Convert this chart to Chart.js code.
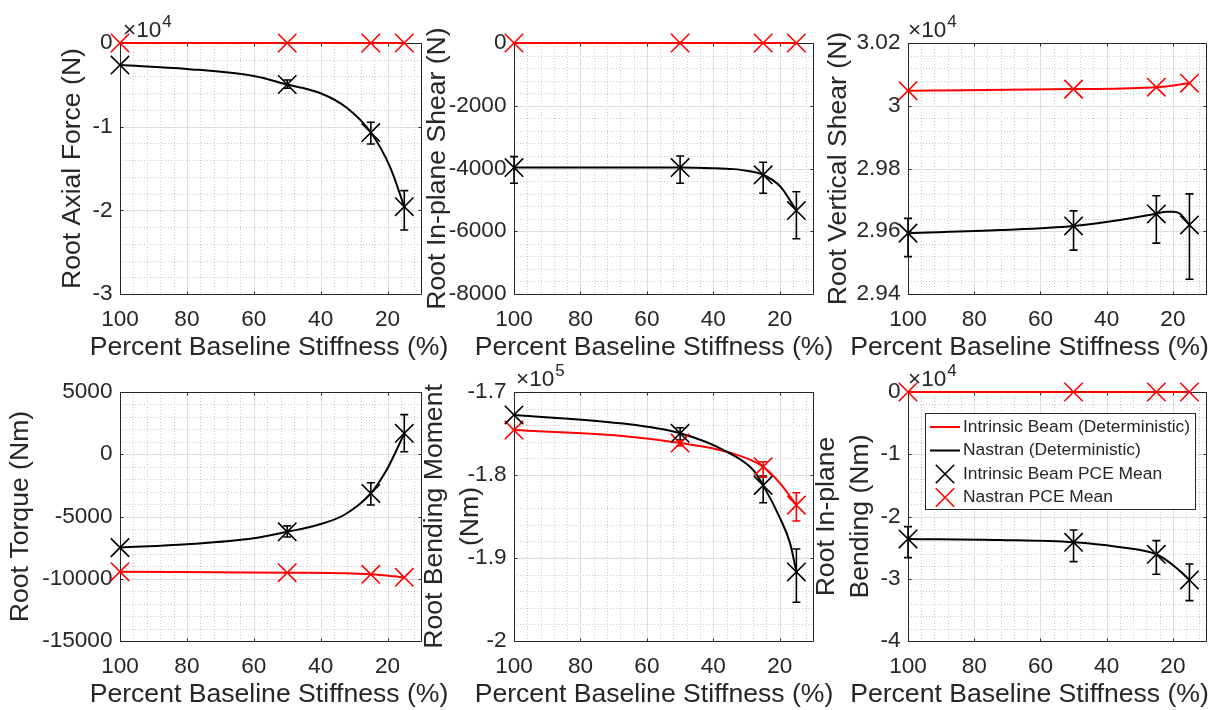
<!DOCTYPE html>
<html>
<head>
<meta charset="utf-8">
<script src="https://cdn.jsdelivr.net/npm/chart.js@4.4.0/dist/chart.umd.min.js"></script>
<style>
  html, body { margin: 0; padding: 0; background: #fff; }
  #wrap { position: relative; width: 1221px; height: 710px; overflow: hidden; }
  #wrap canvas { position: absolute; left: 0; top: 0; }
</style>
</head>
<body>
<div id="wrap">
  <canvas id="c1" width="1221" height="710"></canvas>
  <canvas id="c2" width="1221" height="710"></canvas>
  <canvas id="c3" width="1221" height="710"></canvas>
  <canvas id="c4" width="1221" height="710"></canvas>
  <canvas id="c5" width="1221" height="710"></canvas>
  <canvas id="c6" width="1221" height="710"></canvas>
</div>
<script>
// x positions of the PCE runs (percent baseline stiffness)
const stiffness = [100, 50, 25, 15];
const xTicks = [20, 40, 60, 80, 100];
const xTitle = 'Percent Baseline Stiffness (%)';
const legendLabels = ['Intrinsic Beam (Deterministic)', 'Nastran (Deterministic)', 'Intrinsic Beam PCE Mean', 'Nastran PCE Mean'];

// Root axial force (N)
const axialTicks = [-30000, -20000, -10000, 0];
const axialTickLabels = ['-3', '-2', '-1', '0'];
const axialRedX = [100, 50, 25, 15];
const axialRed = [0, 0, 0, 0];
const axialBlackX = [100, 80, 60, 50, 40, 32, 25, 19.3, 15];
const axialBlack = [-2630, -3100, -3950, -4960, -6010, -7800, -10700, -14780, -19560];
const axialBlackMean = [-2630, -4960, -10700, -19560];
const axialBlackLow = [null, -5410, -12070, -22350];
const axialBlackHigh = [null, -4420, -9480, -17650];
const axialRedMean = [0, 0, 0, 0];

// Root in-plane shear (N)
const shearTicks = [-8000, -6000, -4000, -2000, 0];
const shearTickLabels = ['-8000', '-6000', '-4000', '-2000', '0'];
const shearRedX = [100, 50, 25, 15];
const shearRed = [0, 0, 0, 0];
const shearBlackX = [100, 50, 40, 34, 30, 25, 19.8, 15];
const shearBlack = [-3970, -3970, -3990, -4020, -4070, -4200, -4580, -5340];
const shearBlackMean = [-3970, -3970, -4200, -5340];
const shearBlackLow = [-4470, -4470, -4790, -6240];
const shearBlackHigh = [-3620, -3600, -3800, -4740];
const shearRedMean = [0, 0, 0, 0];

// Root vertical shear (N)
const vertTicks = [29400, 29600, 29800, 30000, 30200];
const vertTickLabels = ['2.94', '2.96', '2.98', '3', '3.02'];
const vertRedX = [100, 50, 25, 15];
const vertRed = [30048, 30053, 30059, 30072];
const vertBlackX = [100, 72, 50, 36, 25, 22, 20, 18, 16.6, 15];
const vertBlack = [29594, 29604, 29617, 29636, 29656, 29662, 29662, 29657, 29641, 29620];
const vertBlackMean = [29594, 29617, 29655, 29620];
const vertBlackLow = [29519, 29540, 29562, 29447];
const vertBlackHigh = [29641, 29665, 29713, 29719];
const vertRedMean = [30048, 30053, 30059, 30072];

// Root torque (Nm)
const torqueTicks = [-15000, -10000, -5000, 0, 5000];
const torqueTickLabels = ['-15000', '-10000', '-5000', '0', '5000'];
const torqueRedX = [100, 50, 25, 15];
const torqueRed = [-9430, -9510, -9640, -9880];
const torqueBlackX = [100, 80, 60, 50, 41, 33, 25, 20.3, 17.3, 15];
const torqueBlack = [-7500, -7230, -6750, -6230, -5680, -4880, -3150, -1270, 340, 1680];
const torqueBlackMean = [-7500, -6230, -3150, 1680];
const torqueBlackLow = [null, -6650, -4080, 200];
const torqueBlackHigh = [null, -5750, -2290, 3180];
const torqueRedMean = [-9430, -9510, -9640, -9880];

// Root bending moment (Nm)
const bendTicks = [-200000, -190000, -180000, -170000];
const bendTickLabels = ['-2', '-1.9', '-1.8', '-1.7'];
const bendRedX = [100, 68, 50, 36, 25, 19.9, 15];
const bendRed = [-174580, -175270, -176150, -177190, -179000, -181000, -183630];
const bendBlackX = [100, 68, 50, 36, 28, 25, 19.9, 16.9, 15];
const bendBlack = [-172770, -173770, -174980, -177190, -179400, -181250, -185220, -188230, -191680];
const bendBlackMean = [-172770, -174980, -181250, -191680];
const bendBlackLow = [null, -175780, -183340, -195340];
const bendBlackHigh = [null, -174300, -180120, -188920];
const bendRedMean = [-174580, -176150, -179000, -183630];
const bendRedLow = [null, -176500, -180280, -185550];
const bendRedHigh = [null, -175850, -178400, -182130];

// Root in-plane bending (Nm)
const ipbTicks = [-40000, -30000, -20000, -10000, 0];
const ipbTickLabels = ['-4', '-3', '-2', '-1', '0'];
const ipbRedX = [100, 50, 25, 15];
const ipbRed = [0, 0, 0, 0];
const ipbBlackX = [100, 72, 50, 37, 25, 20, 15];
const ipbBlack = [-23610, -23780, -24140, -24850, -26070, -27790, -30190];
const ipbBlackMean = [-23610, -24140, -26070, -30190];
const ipbBlackLow = [-26610, -27250, -29280, -33520];
const ipbBlackHigh = [-21630, -22160, -23880, -27620];
const ipbRedMean = [0, 0, 0, 0];

const FONT = '"Liberation Sans", Arial, Helvetica, sans-serif';
const INK = '#262626';
const RED = '#ff0000';
const BLACK = '#000000';

const pts = (xs, ys) => xs.map((x, i) => ({x: x, y: ys[i]}));

// grid, box and inward tick marks, MATLAB style
const axesPlugin = {
  id: 'matlabAxes',
  beforeDatasetsDraw(chart, args, o) {
    const {ctx, chartArea: a} = chart;
    const xs = chart.scales.x, ys = chart.scales.y;
    const snap = p => Math.round(p) + 0.5;
    ctx.save();
    ctx.lineWidth = 1;
    ctx.strokeStyle = '#c9c9c9';
    ctx.setLineDash([1, 2]);
    ctx.beginPath();
    for (let k = 1; ; k++) {
      const v = xs.max - k * o.xMinor;
      if (v <= xs.min) break;
      if (k % 5 === 0) continue;
      const px = snap(xs.getPixelForValue(v));
      ctx.moveTo(px, a.top); ctx.lineTo(px, a.bottom);
    }
    for (let k = 1; ; k++) {
      const v = ys.min + k * o.yMinor;
      if (v >= ys.max - 1e-9) break;
      if (k % 5 === 0) continue;
      const py = snap(ys.getPixelForValue(v));
      ctx.moveTo(a.left, py); ctx.lineTo(a.right, py);
    }
    ctx.stroke();
    ctx.setLineDash([]);
    ctx.strokeStyle = '#dedede';
    ctx.beginPath();
    xs.ticks.forEach(t => {
      const px = snap(xs.getPixelForValue(t.value));
      ctx.moveTo(px, a.top); ctx.lineTo(px, a.bottom);
    });
    ys.ticks.forEach(t => {
      const py = snap(ys.getPixelForValue(t.value));
      ctx.moveTo(a.left, py); ctx.lineTo(a.right, py);
    });
    ctx.stroke();
    const L = snap(a.left), R = snap(a.right), T = snap(a.top), B = snap(a.bottom);
    ctx.strokeStyle = INK;
    ctx.beginPath();
    ctx.rect(L, T, R - L, B - T);
    xs.ticks.forEach(t => {
      const px = snap(xs.getPixelForValue(t.value));
      ctx.moveTo(px, B); ctx.lineTo(px, B - 3);
      ctx.moveTo(px, T); ctx.lineTo(px, T + 3);
    });
    ys.ticks.forEach(t => {
      const py = snap(ys.getPixelForValue(t.value));
      ctx.moveTo(L, py); ctx.lineTo(L + 3, py);
      ctx.moveTo(R, py); ctx.lineTo(R - 3, py);
    });
    ctx.stroke();
    ctx.restore();
  },
  afterDraw(chart, args, o) {
    const {ctx, chartArea: a} = chart;
    ctx.save();
    ctx.fillStyle = INK;
    ctx.font = '26.6px ' + FONT;
    ctx.textAlign = 'center';
    ctx.textBaseline = 'middle';
    ctx.fillText(xTitle, o.xTitleX, a.bottom + 54);
    ctx.save();
    ctx.translate(o.yTitleX, (a.top + a.bottom) / 2);
    ctx.rotate(-Math.PI / 2);
    o.yTitle.forEach((line, i) => ctx.fillText(line, 0, i * o.yTitleLH));
    ctx.restore();
    if (o.exp) {
      ctx.textAlign = 'left';
      ctx.textBaseline = 'alphabetic';
      ctx.font = '22.6px ' + FONT;
      const x0 = a.left + o.expDx;
      ctx.fillText('\u00d710', x0, a.top - 6);
      const w = ctx.measureText('\u00d710').width;
      ctx.font = '17px ' + FONT;
      ctx.fillText(o.exp, x0 + w + 1, a.top - 16);
    }
    ctx.restore();
  }
};

// vertical error bars with caps
const errorBarPlugin = {
  id: 'errorBars',
  afterDatasetsDraw(chart) {
    const {ctx} = chart;
    const ys = chart.scales.y;
    ctx.save();
    chart.data.datasets.forEach((d, di) => {
      if (!d.errLow) return;
      const meta = chart.getDatasetMeta(di);
      ctx.strokeStyle = d.pointBorderColor;
      ctx.lineWidth = 1.6;
      ctx.beginPath();
      meta.data.forEach((p, i) => {
        if (d.errLow[i] == null) return;
        const y1 = ys.getPixelForValue(d.errLow[i]);
        const y2 = ys.getPixelForValue(d.errHigh[i]);
        ctx.moveTo(p.x, y1); ctx.lineTo(p.x, y2);
        ctx.moveTo(p.x - 4, y1); ctx.lineTo(p.x + 4, y1);
        ctx.moveTo(p.x - 4, y2); ctx.lineTo(p.x + 4, y2);
      });
      ctx.stroke();
    });
    ctx.restore();
  }
};

// boxed legend inside the last panel
const boxLegend = {
  id: 'boxLegend',
  afterDraw(chart, args, o) {
    if (!o.show) return;
    const ctx = chart.ctx;
    ctx.save();
    ctx.fillStyle = '#fff';
    ctx.fillRect(o.left, o.top, o.width, o.height);
    ctx.strokeStyle = INK;
    ctx.lineWidth = 1;
    ctx.strokeRect(o.left + 0.5, o.top + 0.5, o.width, o.height);
    ctx.font = '17.4px ' + FONT;
    ctx.textBaseline = 'middle';
    ctx.textAlign = 'left';
    legendLabels.forEach((name, i) => {
      const d = chart.data.datasets.find(s => s.label === name);
      const cy = o.top + o.first + i * o.step;
      if (d.showLine === false) {
        const h = d.pointRadius * Math.SQRT1_2;
        const cx = o.left + 20;
        ctx.strokeStyle = d.pointBorderColor;
        ctx.lineWidth = d.pointBorderWidth;
        ctx.beginPath();
        ctx.moveTo(cx - h, cy - h); ctx.lineTo(cx + h, cy + h);
        ctx.moveTo(cx - h, cy + h); ctx.lineTo(cx + h, cy - h);
        ctx.stroke();
      } else {
        ctx.strokeStyle = d.borderColor;
        ctx.lineWidth = d.borderWidth;
        ctx.beginPath();
        ctx.moveTo(o.left + 5, cy); ctx.lineTo(o.left + 35, cy);
        ctx.stroke();
      }
      ctx.fillStyle = INK;
      ctx.fillText(name, o.left + 38, cy);
    });
    ctx.restore();
  }
};

function markers(label, color, ys, lo, hi) {
  return {
    label: label, data: pts(stiffness, ys), showLine: false, clip: false,
    pointStyle: 'crossRot', pointRadius: 13, pointHoverRadius: 13,
    pointBorderColor: color, pointBackgroundColor: 'rgba(0,0,0,0)', pointBorderWidth: 1.6,
    errLow: lo, errHigh: hi
  };
}

function curve(label, color, xs, ys) {
  return {
    label: label, data: pts(xs, ys), borderColor: color, borderWidth: 2,
    pointRadius: 0, cubicInterpolationMode: 'monotone', fill: false, clip: 2
  };
}

const Y_W = 100;   // room for y tick labels
const X_H = 50;    // room for x tick labels

function makePanel(id, col, row, s) {
  const tickFont = {family: FONT, size: 22.6};
  new Chart(document.getElementById(id), {
    type: 'line',
    data: {
      datasets: [
        markers(legendLabels[2], BLACK, s.blackMean, s.blackLow, s.blackHigh),
        markers(legendLabels[3], RED, s.redMean, s.redLow || null, s.redHigh || null),
        curve(legendLabels[1], BLACK, s.blackX, s.black),
        curve(legendLabels[0], RED, s.redX, s.red)
      ]
    },
    options: {
      responsive: false,
      animation: false,
      events: [],
      layout: {padding: {left: col.l - Y_W, top: row.t, right: 1221 - col.r, bottom: 710 - row.b - X_H}},
      scales: {
        x: {
          type: 'linear', min: 10, max: 100, reverse: true,
          afterFit: sc => { sc.height = X_H; },
          afterBuildTicks: sc => { sc.ticks = xTicks.map(v => ({value: v})); },
          grid: {display: false, drawTicks: false}, border: {display: false},
          ticks: {font: tickFont, color: INK, padding: 12, maxRotation: 0, minRotation: 0, autoSkip: false,
                  callback: v => String(v)}
        },
        y: {
          type: 'linear', min: s.ticks[0], max: s.ticks[s.ticks.length - 1],
          afterFit: sc => { sc.width = Y_W; },
          afterBuildTicks: sc => { sc.ticks = s.ticks.map(v => ({value: v})); },
          grid: {display: false, drawTicks: false}, border: {display: false},
          ticks: {font: tickFont, color: INK, padding: 7.5, autoSkip: false,
                  callback: v => s.tickLabels[s.ticks.indexOf(v)]}
        }
      },
      plugins: {
        legend: {display: false},
        tooltip: {enabled: false},
        matlabAxes: {xMinor: 4, yMinor: (s.ticks[1] - s.ticks[0]) / 5, yTitle: s.yTitle, xTitleX: col.tx,
                     yTitleX: s.yTitleX, yTitleLH: s.yTitleLH || 31, exp: s.exp, expDx: s.expDx || 0},
        boxLegend: s.legend || {show: false}
      }
    },
    plugins: [axesPlugin, errorBarPlugin, boxLegend]
  });
}

const cols = [{l: 120, r: 421, tx: 269}, {l: 514, r: 813, tx: 654}, {l: 908, r: 1206, tx: 1029.5}];
const rows = [{t: 43, b: 294}, {t: 392, b: 641}];

makePanel('c1', cols[0], rows[0], {
  ticks: axialTicks, tickLabels: axialTickLabels, yTitle: ['Root Axial Force (N)'], yTitleX: 73, exp: '4', expDx: 3,
  redX: axialRedX, red: axialRed, blackX: axialBlackX, black: axialBlack,
  blackMean: axialBlackMean, blackLow: axialBlackLow, blackHigh: axialBlackHigh, redMean: axialRedMean
});
makePanel('c2', cols[1], rows[0], {
  ticks: shearTicks, tickLabels: shearTickLabels, yTitle: ['Root In-plane Shear (N)'], yTitleX: 438,
  redX: shearRedX, red: shearRed, blackX: shearBlackX, black: shearBlack,
  blackMean: shearBlackMean, blackLow: shearBlackLow, blackHigh: shearBlackHigh, redMean: shearRedMean
});
makePanel('c3', cols[2], rows[0], {
  ticks: vertTicks, tickLabels: vertTickLabels, yTitle: ['Root Vertical Shear (N)'], yTitleX: 839, exp: '4', expDx: 0,
  redX: vertRedX, red: vertRed, blackX: vertBlackX, black: vertBlack,
  blackMean: vertBlackMean, blackLow: vertBlackLow, blackHigh: vertBlackHigh, redMean: vertRedMean
});
makePanel('c4', cols[0], rows[1], {
  ticks: torqueTicks, tickLabels: torqueTickLabels, yTitle: ['Root Torque (Nm)'], yTitleX: 21,
  redX: torqueRedX, red: torqueRed, blackX: torqueBlackX, black: torqueBlack,
  blackMean: torqueBlackMean, blackLow: torqueBlackLow, blackHigh: torqueBlackHigh, redMean: torqueRedMean
});
makePanel('c5', cols[1], rows[1], {
  ticks: bendTicks, tickLabels: bendTickLabels, yTitle: ['Root Bending Moment', '(Nm)'], yTitleX: 435, yTitleLH: 36,
  exp: '5', expDx: 2,
  redX: bendRedX, red: bendRed, blackX: bendBlackX, black: bendBlack,
  blackMean: bendBlackMean, blackLow: bendBlackLow, blackHigh: bendBlackHigh,
  redMean: bendRedMean, redLow: bendRedLow, redHigh: bendRedHigh
});
makePanel('c6', cols[2], rows[1], {
  ticks: ipbTicks, tickLabels: ipbTickLabels, yTitle: ['Root In-plane', 'Bending (Nm)'], yTitleX: 827, yTitleLH: 34,
  exp: '4', expDx: 0,
  redX: ipbRedX, red: ipbRed, blackX: ipbBlackX, black: ipbBlack,
  blackMean: ipbBlackMean, blackLow: ipbBlackLow, blackHigh: ipbBlackHigh, redMean: ipbRedMean,
  legend: {show: true, left: 925, top: 413, width: 270, height: 96, first: 14, step: 23.5}
});
</script>
</body>
</html>
